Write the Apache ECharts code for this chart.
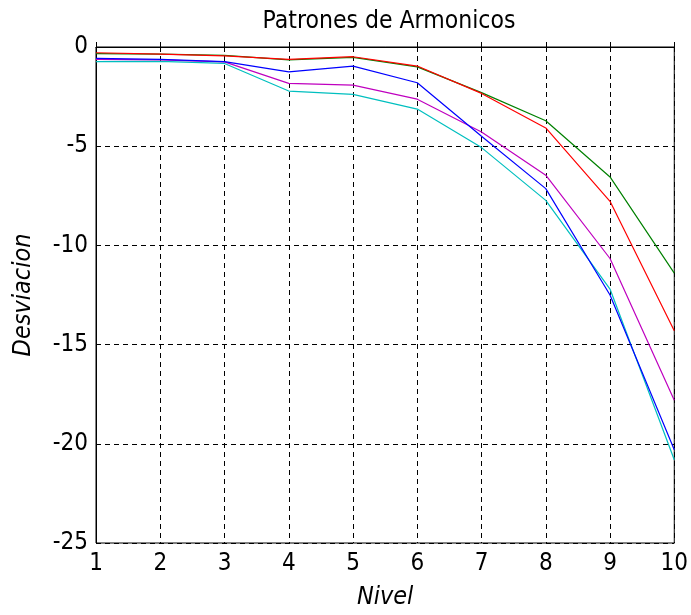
<!DOCTYPE html>
<html><head><meta charset="utf-8">
<script src="https://cdn.jsdelivr.net/npm/echarts@6/dist/echarts.min.js"></script>
<style>html,body{margin:0;padding:0;background:#fff}#c{width:691px;height:615px}</style>
</head><body><div id="c"></div>
<script>
const niveles = [1,2,3,4,5,6,7,8,9,10];
const serieVerde   = [-0.33,-0.36,-0.42,-0.65,-0.52,-1.0,-2.3,-3.72,-6.55,-11.4];
const serieCian    = [-0.74,-0.72,-0.83,-2.22,-2.39,-3.13,-5.07,-7.73,-12.2,-20.8];
const serieMagenta = [-0.62,-0.65,-0.75,-1.83,-1.92,-2.63,-4.28,-6.46,-10.66,-17.8];
const serieAzul    = [-0.57,-0.62,-0.74,-1.25,-0.96,-1.8,-4.5,-7.14,-12.5,-20.3];
const serieRoja    = [-0.29,-0.36,-0.45,-0.62,-0.49,-0.96,-2.34,-4.08,-7.78,-14.3];

const font = '"DejaVu Sans Condensed", sans-serif';
function mk(data, color){
  return {type:'line', data: niveles.map((x,i)=>[x,data[i]]), showSymbol:false,
    lineStyle:{color, width:1.2}, itemStyle:{color}, animation:false};
}
const chart = echarts.init(document.getElementById('c'));
chart.setOption({
  animation:false,
  title:{text:'Patrones de Armonicos', left:384, top:4, textAlign:'center',
    textStyle:{fontFamily:font, fontSize:24.5, fontWeight:'normal', color:'#000'}},
  grid:{left:96, right:14, top:47, bottom:72, show:true, borderColor:'#000', borderWidth:1},
  xAxis:{type:'value', min:1, max:10, interval:1, name:'Nivel', nameLocation:'middle', nameGap:42,
    nameTextStyle:{fontFamily:font, fontSize:25, fontStyle:'italic', color:'#000'},
    axisLine:{lineStyle:{color:'#000'}}, axisTick:{inside:true, length:5, lineStyle:{color:'#000'}},
    axisLabel:{fontFamily:font, fontSize:24, color:'#000', margin:9},
    splitLine:{show:true, lineStyle:{color:'#000', type:[5,4], width:1}}},
  yAxis:{type:'value', min:-25, max:0, interval:5, name:'Desviacion', nameLocation:'middle', nameGap:60,
    nameTextStyle:{fontFamily:font, fontSize:25, fontStyle:'italic', color:'#000'},
    axisLine:{show:true, lineStyle:{color:'#000'}}, axisTick:{show:true, inside:true, length:5, lineStyle:{color:'#000'}},
    axisLabel:{fontFamily:font, fontSize:24, color:'#000', margin:8},
    splitLine:{show:true, lineStyle:{color:'#000', type:[5,4], width:1}}},
  series:[mk(serieVerde,'#008000'), mk(serieCian,'#00bfbf'), mk(serieMagenta,'#bf00bf'), mk(serieAzul,'#0000ff'), mk(serieRoja,'#ff0000')]
});
</script></body></html>
